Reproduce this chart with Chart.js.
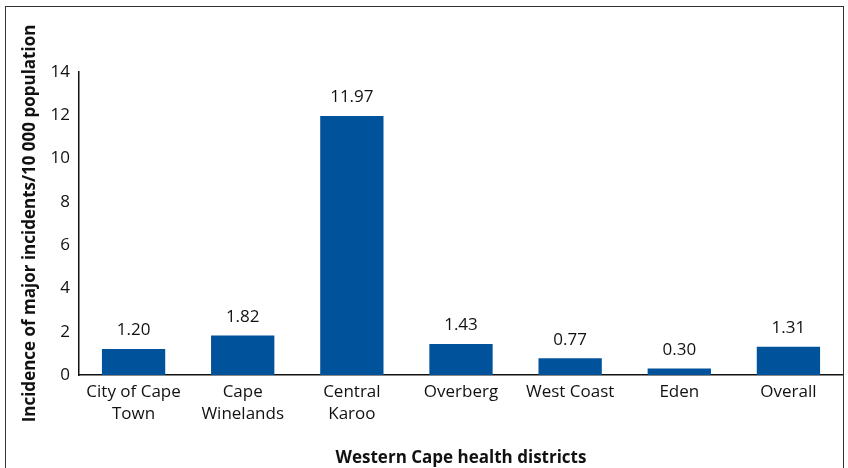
<!DOCTYPE html>
<html>
<head>
<meta charset="utf-8">
<script src="https://cdn.jsdelivr.net/npm/chart.js@4"></script>
<style>
  html, body { margin: 0; padding: 0; background: #fff; }
  #wrap { position: relative; width: 848px; height: 468px; }
  #frame { position: absolute; left: 5px; top: 6px; width: 839px; height: 470px;
           border: 1px solid #333; border-bottom: none; box-sizing: border-box; pointer-events: none; }
</style>
</head>
<body>
<div id="wrap">
  <canvas id="c" width="848" height="468"></canvas>
  <div id="frame"></div>
</div>
<script>
const FONT = '"Liberation Sans Narrow", "Open Sans", sans-serif';

const districts = [['City of Cape', 'Town'], ['Cape', 'Winelands'], ['Central', 'Karoo'], 'Overberg', 'West Coast', 'Eden', 'Overall'];
const incidence = [1.20, 1.82, 11.97, 1.43, 0.77, 0.30, 1.31];
const yTicks = [0, 2, 4, 6, 8, 10, 12, 14];

// value labels above each bar
const barLabels = {
  id: 'barLabels',
  afterDatasetsDraw(chart) {
    const ctx = chart.ctx;
    const meta = chart.getDatasetMeta(0);
    ctx.save();
    ctx.font = '17px ' + FONT;
    ctx.fillStyle = '#111';
    ctx.textAlign = 'center';
    ctx.textBaseline = 'bottom';
    meta.data.forEach((bar, i) => {
      ctx.fillText(incidence[i].toFixed(2), bar.x, bar.y - 10);
    });
    ctx.restore();
  }
};

new Chart(document.getElementById('c'), {
  type: 'bar',
  data: {
    labels: districts,
    datasets: [{ data: incidence, backgroundColor: '#00529b', categoryPercentage: 0.58, barPercentage: 1 }]
  },
  options: {
    responsive: false,
    animation: false,
    layout: { padding: { top: 72, right: 5, left: 20, bottom: 0 } },
    plugins: { legend: { display: false }, tooltip: { enabled: false } },
    scales: {
      x: {
        grid: { display: false, drawTicks: false },
        border: { color: '#111', width: 1.5 },
        ticks: { color: '#111', font: { family: FONT, size: 17, lineHeight: 1.3 }, padding: 6, maxRotation: 0, autoSkip: false },
        title: { display: true, text: 'Western Cape health districts', color: '#111', font: { family: FONT, size: 17, weight: 'bold' }, padding: { top: 20, bottom: 0 } },
        afterFit: s => { s.height = 93; }
      },
      y: {
        min: 0, max: 14,
        afterBuildTicks: s => { s.ticks = yTicks.map(v => ({ value: v })); },
        grid: { display: false, drawTicks: false },
        border: { color: '#111', width: 1.5 },
        ticks: { color: '#111', font: { family: FONT, size: 17 }, padding: 9 },
        title: { display: true, text: 'Incidence of major incidents/10 000 population', color: '#111', font: { family: FONT, size: 17, weight: 'bold' }, padding: { top: 0, bottom: 10 } },
        afterFit: s => { s.width = 59; }
      }
    }
  },
  plugins: [barLabels]
});
</script>
</body>
</html>
